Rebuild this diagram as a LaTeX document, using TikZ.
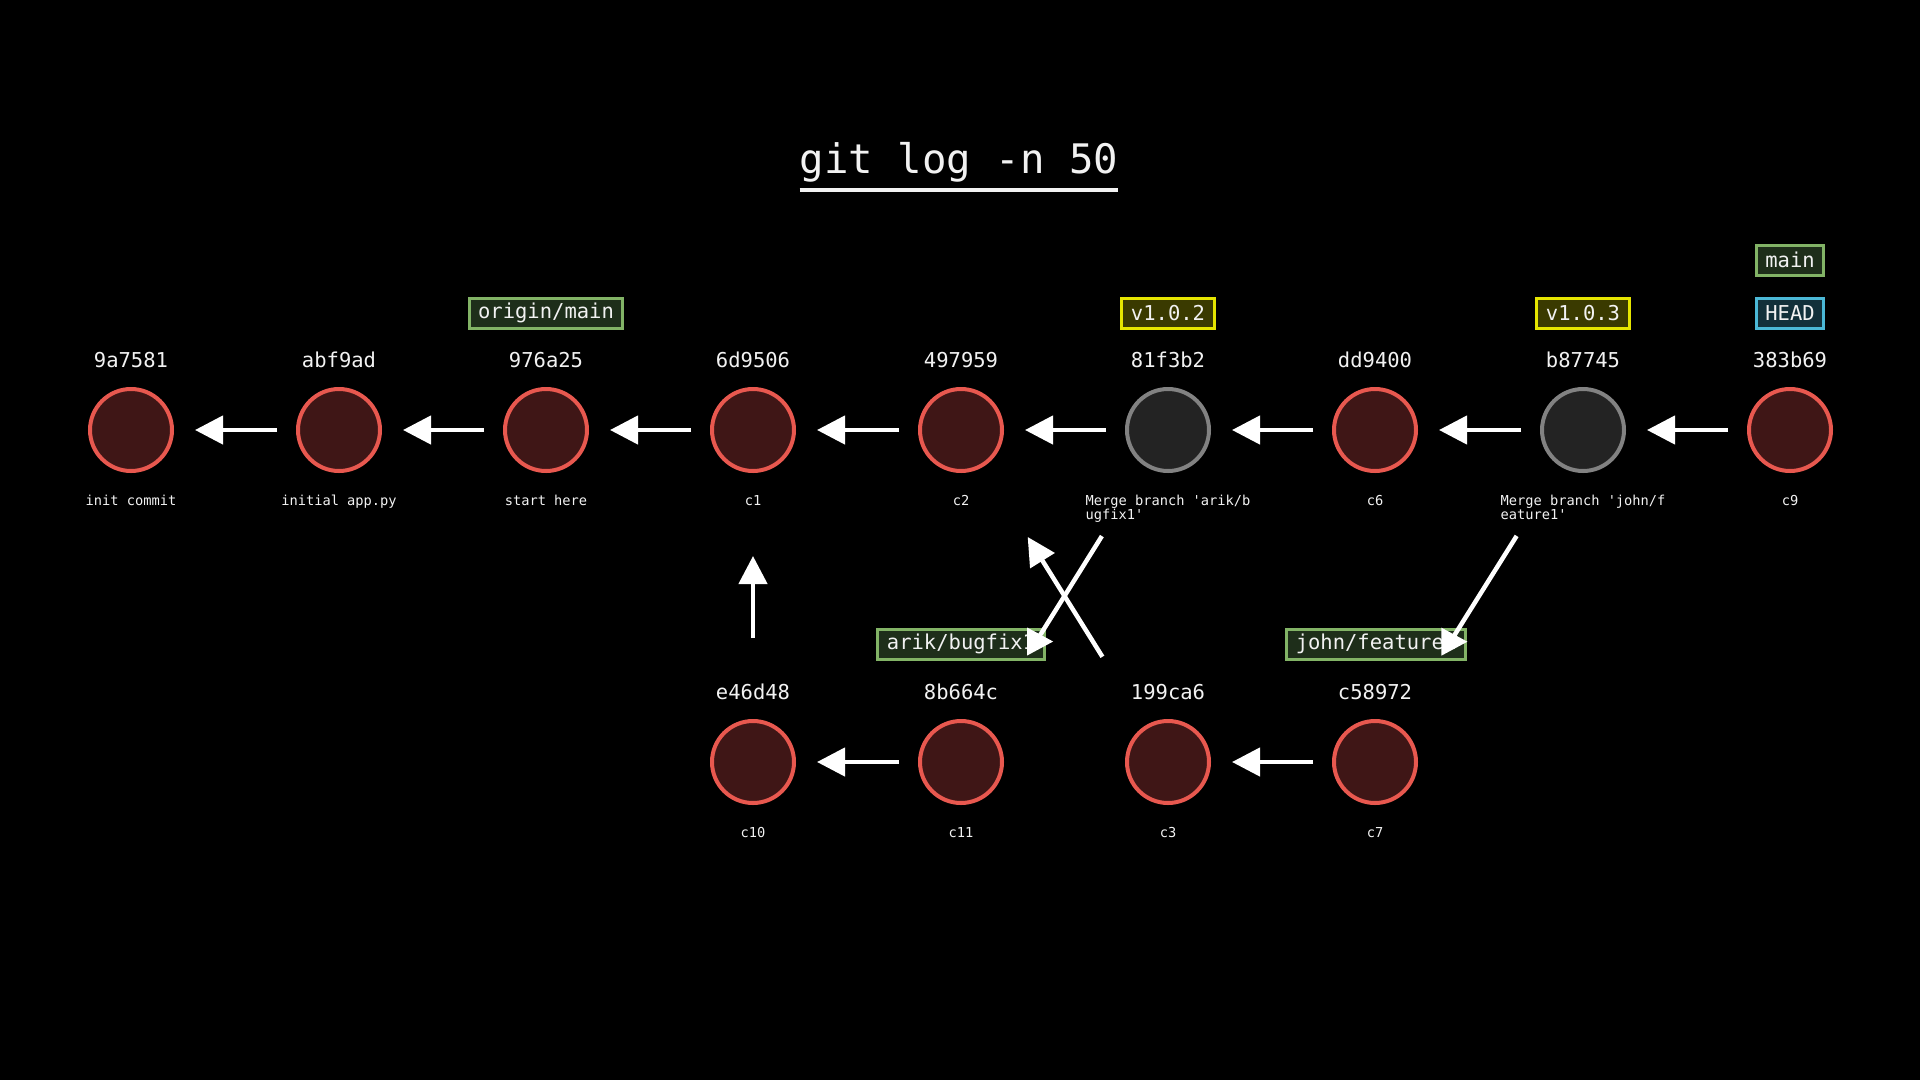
\documentclass[tikz,border=0pt]{standalone}
\usepackage{fontspec}
\newfontfamily\monofnt{DejaVu Sans Mono}
\usetikzlibrary{arrows.meta,calc}
\definecolor{cfill}{HTML}{3F1616}
\definecolor{cborder}{HTML}{E8584F}
\definecolor{mfill}{HTML}{232323}
\definecolor{mborder}{HTML}{828282}
\definecolor{gfill}{HTML}{1E2E1A}
\definecolor{gborder}{HTML}{82B366}
\definecolor{yfill}{HTML}{3A3A00}
\definecolor{yborder}{HTML}{E5E500}
\definecolor{hfill}{HTML}{12303A}
\definecolor{hborder}{HTML}{4BB8D6}
\definecolor{txt}{HTML}{F2F2F2}
\begin{document}
\begin{tikzpicture}[x=1pt,y=-1pt,
  commit/.style={circle, draw=cborder, fill=cfill, line width=4pt, minimum size=82pt, inner sep=0pt},
  mergecommit/.style={commit, draw=mborder, fill=mfill},
  hashlbl/.style={font=\monofnt\fontsize{20.5}{24}\selectfont, text=txt, anchor=base, inner sep=0pt},
  msglbl/.style={font=\monofnt\fontsize{13.7}{11.5}\selectfont, text=txt, anchor=base, inner sep=0pt},
  msgmulti/.style={font=\monofnt\fontsize{13.7}{11.5}\selectfont, text=txt, anchor=north, inner sep=0pt, align=left},
  tagbox/.style={draw, line width=3pt, font=\monofnt\fontsize{20.5}{24}\selectfont, text=txt, inner xsep=9pt, inner ysep=0pt, minimum height=30pt},
  branchtag/.style={tagbox, draw=gborder, fill=gfill},
  versiontag/.style={tagbox, draw=yborder, fill=yfill},
  headtag/.style={tagbox, draw=hborder, fill=hfill},
  arr/.style={draw=white, line width=4.5pt, -{Triangle[length=28pt,width=28pt]}},
  plainline/.style={draw=white, line width=4.5pt},
  rowarr/.style={arr, shorten <=19pt, shorten >=21pt}
]
\fill[black] (0,0) rectangle (1920,1080);
\useasboundingbox (0,0) rectangle (1920,1080);

% title
\node[font=\monofnt\fontsize{40.7}{48}\selectfont, text=txt, anchor=base, inner sep=0pt] (title) at (959,173) {git log -n 50};
\draw[txt, line width=3.5pt] ($(title.base west)+(0,17)$) -- ($(title.base east)+(0,17)$);

% row 1 commits
\node[commit] (n1) at (131,430) {};
\node[commit] (n2) at (339,430) {};
\node[commit] (n3) at (546,430) {};
\node[commit] (n4) at (753,430) {};
\node[commit] (n5) at (961,430) {};
\node[mergecommit] (n6) at (1168,430) {};
\node[commit] (n7) at (1375,430) {};
\node[mergecommit] (n8) at (1583,430) {};
\node[commit] (n9) at (1790,430) {};

% row 2 commits
\node[commit] (m1) at (753,762) {};
\node[commit] (m2) at (961,762) {};
\node[commit] (m3) at (1168,762) {};
\node[commit] (m4) at (1375,762) {};

% hashes
\node[hashlbl] (h1) at ($(n1)+(0,-63)$) {9a7581};
\node[hashlbl] (h2) at ($(n2)+(0,-63)$) {abf9ad};
\node[hashlbl] (h3) at ($(n3)+(0,-63)$) {976a25};
\node[hashlbl] (h4) at ($(n4)+(0,-63)$) {6d9506};
\node[hashlbl] (h5) at ($(n5)+(0,-63)$) {497959};
\node[hashlbl] (h6) at ($(n6)+(0,-63)$) {81f3b2};
\node[hashlbl] (h7) at ($(n7)+(0,-63)$) {dd9400};
\node[hashlbl] (h8) at ($(n8)+(0,-63)$) {b87745};
\node[hashlbl] (h9) at ($(n9)+(0,-63)$) {383b69};
\node[hashlbl] (g1) at ($(m1)+(0,-63)$) {e46d48};
\node[hashlbl] (g2) at ($(m2)+(0,-63)$) {8b664c};
\node[hashlbl] (g3) at ($(m3)+(0,-63)$) {199ca6};
\node[hashlbl] (g4) at ($(m4)+(0,-63)$) {c58972};

% messages
\node[msglbl] (t1) at ($(n1)+(0,75)$) {init commit};
\node[msglbl] (t2) at ($(n2)+(0,75)$) {initial app.py};
\node[msglbl] (t3) at ($(n3)+(0,75)$) {start here};
\node[msglbl] (t4) at ($(n4)+(0,75)$) {c1};
\node[msglbl] (t5) at ($(n5)+(0,75)$) {c2};
\node[msgmulti] (t6) at ($(n6)+(0,64.6)$) {Merge branch 'arik/b\\ugfix1'};
\node[msglbl] (t7) at ($(n7)+(0,75)$) {c6};
\node[msgmulti] (t8) at ($(n8)+(0,64.6)$) {Merge branch 'john/f\\eature1'};
\node[msglbl] (t9) at ($(n9)+(0,75)$) {c9};
\node[msglbl] (s1) at ($(m1)+(0,75)$) {c10};
\node[msglbl] (s2) at ($(m2)+(0,75)$) {c11};
\node[msglbl] (s3) at ($(m3)+(0,75)$) {c3};
\node[msglbl] (s4) at ($(m4)+(0,75)$) {c7};

% tags
\node[branchtag] (origin) at (546,313) {origin/main};
\node[versiontag] (v102) at (1168,313) {v1.0.2};
\node[versiontag] (v103) at (1583,313) {v1.0.3};
\node[headtag] (head) at (1790,313) {HEAD};
\node[branchtag] (mainb) at (1790,260) {main};
\node[branchtag] (arik) at (961,644) {arik/bugfix1};
\node[branchtag] (john) at (1376,644) {john/feature1};

% row arrows
\draw[rowarr] (n2) -- (n1);
\draw[rowarr] (n3) -- (n2);
\draw[rowarr] (n4) -- (n3);
\draw[rowarr] (n5) -- (n4);
\draw[rowarr] (n6) -- (n5);
\draw[rowarr] (n7) -- (n6);
\draw[rowarr] (n8) -- (n7);
\draw[rowarr] (n9) -- (n8);
\draw[rowarr] (m2) -- (m1);
\draw[rowarr] (m4) -- (m3);

% cross-row arrows (upward)
\draw[arr] ($(m1)!124pt!(n4)$) -- ($(n4)!126pt!(m1)$);
\draw[arr] ($(m3)!124pt!(n5)$) -- ($(n5)!126pt!(m3)$);

% cross-row arrows (downward, heads drawn pointing right as in the reference)
\coordinate (ae) at ($(m2)!142pt!(n6)$);
\draw[plainline] ($(n6)!125pt!(m2)$) -- (ae);
\fill[white] ($(ae)+(17,0)$) -- ($(ae)+(-9,-14)$) -- ($(ae)+(-9,14)$) -- cycle;
\coordinate (je) at ($(m4)!142pt!(n8)$);
\draw[plainline] ($(n8)!125pt!(m4)$) -- (je);
\fill[white] ($(je)+(17,0)$) -- ($(je)+(-9,-14)$) -- ($(je)+(-9,14)$) -- cycle;
\end{tikzpicture}
\end{document}
